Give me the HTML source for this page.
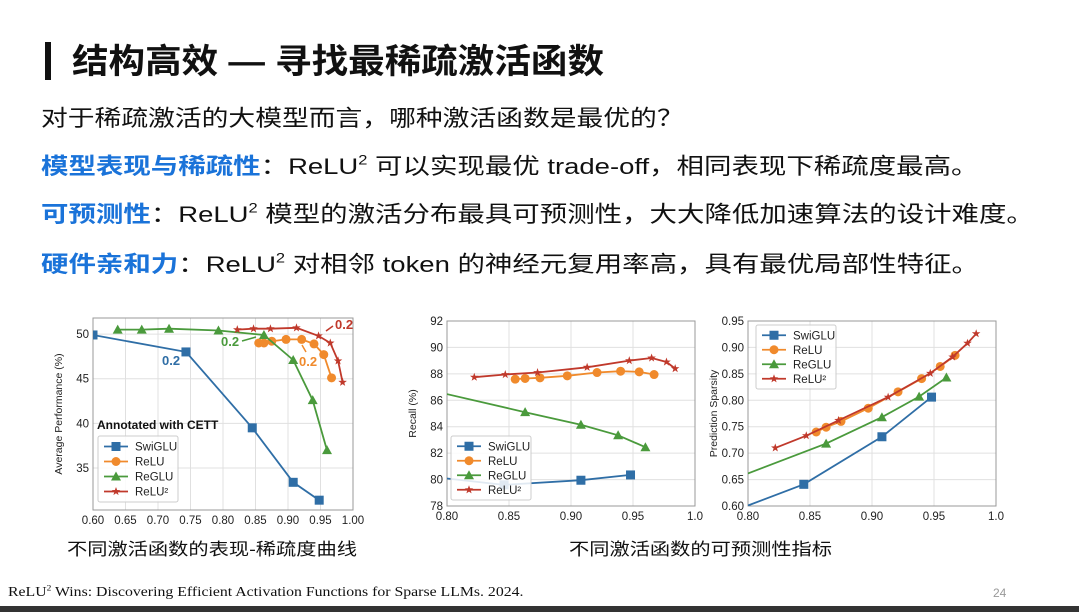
<!DOCTYPE html>
<html><head><meta charset="utf-8">
<style>
body{margin:0;width:1079px;height:612px;background:#fff;overflow:hidden;position:relative;font-family:"Liberation Sans","Noto Sans CJK SC",sans-serif;color:#111}
.abs{position:absolute;white-space:nowrap;transform-origin:0 0}
.sx{transform:scaleX(1.19)}
.sx2{transform:scaleX(1.22)}
.b{color:#1a73d9;font-weight:bold}
sup{font-size:0.6em;vertical-align:0.7em;line-height:0}
</style></head><body>
<div class="abs" style="left:45px;top:42px;width:6px;height:38px;background:#111"></div>
<div class="abs" style="left:72px;top:40px;font-size:34px;font-weight:bold;line-height:44px;transform:scaleX(1.075)">结构高效 — 寻找最稀疏激活函数</div>
<div class="abs sx" style="left:41px;top:103px;font-size:22.5px;line-height:32px">对于稀疏激活的大模型而言，哪种激活函数是最优的？</div>
<div class="abs sx2" style="left:41px;top:151px;font-size:22.5px;line-height:32px"><span class="b">模型表现与稀疏性</span>：ReLU<sup>2</sup> 可以实现最优 trade-off，相同表现下稀疏度最高。</div>
<div class="abs sx2" style="left:41px;top:199px;font-size:22.5px;line-height:32px"><span class="b">可预测性</span>：ReLU<sup>2</sup> 模型的激活分布最具可预测性，大大降低加速算法的设计难度。</div>
<div class="abs sx2" style="left:41px;top:249px;font-size:22.5px;line-height:32px"><span class="b">硬件亲和力</span>：ReLU<sup>2</sup> 对相邻 token 的神经元复用率高，具有最优局部性特征。</div>
<svg id="charts" width="1079" height="612" style="position:absolute;left:0;top:0" xmlns="http://www.w3.org/2000/svg"></svg>
<div class="abs sx" style="left:67px;top:538px;font-size:17px;line-height:24px">不同激活函数的表现-稀疏度曲线</div>
<div class="abs sx" style="left:569px;top:538px;font-size:17px;line-height:24px">不同激活函数的可预测性指标</div>
<div class="abs" style="left:8px;top:584px;font-size:13.5px;font-family:'Liberation Serif',serif;transform:scaleX(1.17)">ReLU<sup>2</sup> Wins: Discovering Efficient Activation Functions for Sparse LLMs. 2024.</div>
<div class="abs" style="left:993px;top:586px;font-size:12px;color:#999">24</div>
<div class="abs" style="left:0;top:606px;width:1079px;height:6px;background:#333"></div>
<script>
const seriesNames=["SwiGLU","ReLU","ReGLU","ReLU²"];
const colors=["#2f6ea6","#f08a2c","#4a9a3c","#c0392b"];
const markers=["square","circle","triangle","star"];
// Chart 1: average performance vs sparsity
const c1X=[[0.60,0.743,0.845,0.908,0.948],[0.855,0.863,0.875,0.897,0.921,0.94,0.955,0.967],[0.638,0.675,0.717,0.793,0.863,0.908,0.938,0.96],[0.822,0.847,0.873,0.913,0.947,0.965,0.977,0.984]];
const c1Y=[[49.9,48,39.5,33.4,31.4],[49,49,49.2,49.4,49.4,48.9,47.7,45.1],[50.5,50.5,50.6,50.4,49.9,47.1,42.6,37],[50.5,50.6,50.6,50.7,49.8,49,47,44.6]];
const c1XTicks=[0.60,0.65,0.70,0.75,0.80,0.85,0.90,0.95,1.00];
const c1YTicks=[35,40,45,50];
// Chart 2: recall
const c2X=[[0.77,0.846,0.908,0.948],[0.855,0.863,0.875,0.897,0.921,0.94,0.955,0.967],[0.78,0.863,0.908,0.938,0.96],[0.822,0.847,0.873,0.913,0.947,0.965,0.977,0.984]];
const c2Y=[[80.4,79.6,79.95,80.35],[87.6,87.65,87.7,87.85,88.1,88.2,88.15,87.95],[86.9,85.1,84.15,83.35,82.45],[87.75,87.95,88.1,88.5,89,89.2,88.9,88.4]];
const c2XTicks=[0.80,0.85,0.90,0.95,1.0];
const c2YTicks=[78,80,82,84,86,88,90,92];
// Chart 3: prediction sparsity
const c3X=[[0.743,0.845,0.908,0.948],[0.855,0.863,0.875,0.897,0.921,0.94,0.955,0.967],[0.72,0.863,0.908,0.938,0.96],[0.822,0.847,0.873,0.913,0.947,0.965,0.977,0.984]];
const c3Y=[[0.55,0.641,0.731,0.806],[0.74,0.749,0.76,0.785,0.816,0.841,0.864,0.885],[0.59,0.718,0.768,0.807,0.843],[0.71,0.733,0.762,0.806,0.851,0.882,0.908,0.926]];
const c3XTicks=[0.80,0.85,0.90,0.95,1.0];
const c3YTicks=[0.60,0.65,0.70,0.75,0.80,0.85,0.90,0.95];

const NS="http://www.w3.org/2000/svg";
const svg=document.getElementById("charts");
function mk(tag,attrs,parent){const e=document.createElementNS(NS,tag);for(const k in attrs)e.setAttribute(k,attrs[k]);(parent||svg).appendChild(e);return e;}
function marker(g,type,x,y,c){
  let e;
  if(type==="square")e=mk("rect",{x:x-4.5,y:y-4.5,width:9,height:9,fill:c},g);
  else if(type==="circle")e=mk("circle",{cx:x,cy:y,r:4.5,fill:c},g);
  else if(type==="triangle")e=mk("polygon",{points:`${x},${y-5} ${x-5},${y+4} ${x+5},${y+4}`,fill:c},g);
  else{let p=[];for(let i=0;i<10;i++){const r=i%2?1.8:4.5,a=-Math.PI/2+i*Math.PI/5;p.push((x+r*Math.cos(a)).toFixed(1)+","+(y+r*Math.sin(a)).toFixed(1));}e=mk("polygon",{points:p.join(" "),fill:c},g);}
  
  
}
function chart(id,box,xd,yd,xt,yt,xs,ys,ylabel,fmtX,fmtY,legend){
  const [L,T,R,B]=box;
  const sx=v=>L+(v-xd[0])/(xd[1]-xd[0])*(R-L);
  const sy=v=>B-(v-yd[0])/(yd[1]-yd[0])*(B-T);
  const g=mk("g",{});
  
  
  const cp=mk("clipPath",{id:id+"-clip"},g);
  mk("rect",{x:L,y:T,width:R-L,height:B-T},cp);
  xt.forEach(v=>{const x=sx(v);mk("line",{x1:x,x2:x,y1:T,y2:B,stroke:"#e0e0e0","stroke-width":1},g);
    const t=mk("text",{x:x,y:B+14,"font-size":11.5,"text-anchor":"middle",fill:"#222"},g);t.textContent=fmtX(v);
    });
  yt.forEach(v=>{const y=sy(v);mk("line",{x1:L,x2:R,y1:y,y2:y,stroke:"#e0e0e0","stroke-width":1},g);
    const t=mk("text",{x:L-4,y:y+4,"font-size":11.5,"text-anchor":"end",fill:"#222"},g);t.textContent=fmtY(v);
    });
  mk("rect",{x:L,y:T,width:R-L,height:B-T,fill:"none",stroke:"#999","stroke-width":1},g);
  const yl=mk("text",{x:0,y:0,"font-size":10.5,"text-anchor":"middle",fill:"#222",transform:`translate(${L-31},${(T+B)/2}) rotate(-90)`},g);yl.textContent=ylabel;
  
  const pg=mk("g",{"clip-path":`url(#${id}-clip)`},g);
  xs.forEach((xa,i)=>{
    const pts=xa.map((v,j)=>sx(v).toFixed(1)+","+sy(ys[i][j]).toFixed(1)).join(" ");
    const pl=mk("polyline",{points:pts,fill:"none",stroke:colors[i],"stroke-width":1.8},pg);
    
    xa.forEach((v,j)=>marker(pg,markers[i],sx(v),sy(ys[i][j]),colors[i]));
  });
  if(legend){
    const [lx,ly,w,sp]=legend;
    const lg=mk("g",{},g);
    mk("rect",{x:lx,y:ly,width:w,height:sp*4+6,fill:"#fff","fill-opacity":0.85,stroke:"#ccc",rx:2},lg);
    seriesNames.forEach((n,i)=>{const y=ly+3+sp/2+i*sp;
      mk("line",{x1:lx+6,x2:lx+30,y1:y,y2:y,stroke:colors[i],"stroke-width":1.8},lg);
      marker(lg,markers[i],lx+18,y,colors[i]);
      const t=mk("text",{x:lx+37,y:y+4,"font-size":11.5,fill:"#222"},lg);t.textContent=n;
      });
  }
  return {sx,sy,g};
}
const f2=v=>v.toFixed(2), f1=v=>v.toFixed(v===1?1:2), f0=v=>String(v);
const a=chart("performance-chart",[93,318,353,510],[0.60,1.00],[30.3,51.8],c1XTicks,c1YTicks,c1X,c1Y,"Average Performance (%)",f2,f0,[98,436,80,15]);
const ann=[["0.2",162,365,"#2f6ea6"],["0.2",221,346,"#4a9a3c"],["0.2",299,366,"#f08a2c"],["0.2",335,329,"#c0392b"]];
ann.forEach(([s,x,y,c])=>{const t=mk("text",{x,y,"font-size":13,"font-weight":"bold",fill:c},a.g);t.textContent=s;});
[[242,341,256,337,"#4a9a3c"],[306,352,302,345,"#f08a2c"],[333,326,326,331,"#c0392b"]].forEach(([x1,y1,x2,y2,c])=>mk("line",{x1,y1,x2,y2,stroke:c,"stroke-width":1.5},a.g));
const at=mk("text",{x:97,y:429,"font-size":12,"font-weight":"bold",fill:"#111"},a.g);at.textContent="Annotated with CETT";

chart("recall-chart",[447,321,695,506],[0.80,1.0],[78,92],c2XTicks,c2YTicks,c2X,c2Y,"Recall (%)",f1,f0,[451,436,80,14.5]);
chart("prediction-chart",[748,321,996,506],[0.80,1.0],[0.60,0.95],c3XTicks,c3YTicks,c3X,c3Y,"Prediction Sparsity",f1,f2,[756,325,80,14.5]);
</script>
</body></html>
